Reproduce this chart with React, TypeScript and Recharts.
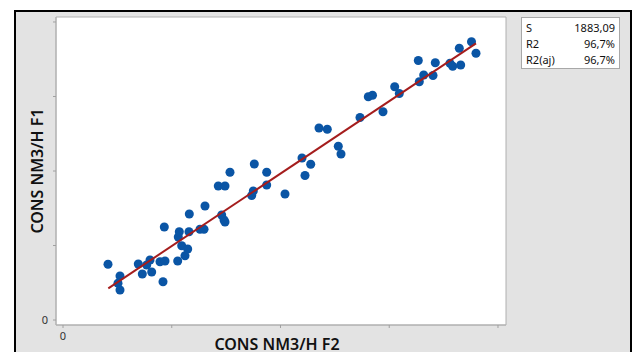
import React from "react";
import { ScatterChart, Scatter, XAxis, YAxis, CartesianGrid, ReferenceArea } from "recharts";

const xValues = [
  4138, 5241, 5057, 5241, 6924, 7292, 7697, 8000, 8156, 8920,
  9379, 9195, 9315, 10547, 10602, 10694, 10915, 11218, 11467, 11614,
  11586, 12598, 12966, 13057, 14280, 14897, 15356, 14593, 14805, 14897,
  17352, 17499, 17591, 18731, 18731, 20414, 21977, 22253, 22777, 23540,
  24303, 25315, 25563, 27310, 28074, 28460, 29425, 30501, 30924, 32671,
  32763, 33168, 34023, 34234, 35586, 35834, 36570, 36441, 37563, 37977,
];
const yValues = [
  7477, 5906, 4926, 4027, 7517, 6174, 7383, 8054, 6443, 7826,
  7919, 5141, 12483, 7919, 11141, 11852, 9973, 8631, 9530, 14228,
  11852, 12174, 12174, 15302, 17987, 17987, 19826, 14094, 13423, 13154,
  16711, 17315, 20940, 19826, 18121, 16913, 21745, 19396, 20913, 25772,
  25597, 23315, 22282, 27181, 29973, 30161, 27960, 31315, 30403, 34832,
  31987, 32886, 32819, 34537, 34456, 34054, 34228, 36470, 37356, 35799,
];
const fitX = [4166, 37977];
const fitY = [4255, 37141];

const xTicks = [0, 10000, 20000, 30000, 40000];
const yTicks = [0, 10000, 20000, 30000, 40000];
const shownTickLabels = ["0"];
const xTitle = "CONS NM3/H F2";
const yTitle = "CONS NM3/H F1";
const statNames = ["S", "R2", "R2(aj)"];
const statValues = ["1883,09", "96,7%", "96,7%"];

const points = xValues.map((x, i) => ({ x, y: yValues[i] }));
const fitLine = fitX.map((x, i) => ({ x, y: fitY[i] }));

const X_DOMAIN: [number, number] = [-644, 40736];
const Y_DOMAIN: [number, number] = [-671, 40671];

const fmt = (v: number) => (shownTickLabels.includes(String(v)) ? String(v) : "");
const FONT = "'Noto Sans', 'Open Sans', sans-serif";

export default function App() {
  return (
    <div style={{ position: "absolute", left: 0, top: 0, width: 635, height: 352, overflow: "hidden", background: "#fff" }}>
      <div
        style={{
          position: "absolute",
          left: 14,
          top: 10,
          width: 614,
          height: 400,
          border: "2px solid #000",
          background: "#e3e3e3",
        }}
      />
      <div style={{ position: "absolute", left: 0, top: 0 }}>
        <ScatterChart width={635} height={352} margin={{ top: 17, right: 129, left: 26, bottom: 7 }}>
          <CartesianGrid horizontal={false} vertical={false} fill="#ffffff" />
          <XAxis
            type="number"
            dataKey="x"
            domain={X_DOMAIN}
            ticks={xTicks}
            tickFormatter={fmt}
            height={20}
            tickSize={3}
            tickMargin={4}
            axisLine={{ stroke: "#b0b0b0" }}
            tickLine={{ stroke: "#a0a0a0" }}
            tick={{ fontSize: 11, fill: "#333", fontFamily: FONT }}
            allowDataOverflow
          />
          <YAxis
            type="number"
            dataKey="y"
            domain={Y_DOMAIN}
            ticks={yTicks}
            tickFormatter={fmt}
            width={30}
            tickSize={3}
            tickMargin={5}
            axisLine={{ stroke: "#b0b0b0" }}
            tickLine={{ stroke: "#a0a0a0" }}
            tick={{ fontSize: 11, fill: "#333", fontFamily: FONT }}
            allowDataOverflow
          />
          <ReferenceArea
            x1={X_DOMAIN[0]}
            x2={X_DOMAIN[1]}
            y1={Y_DOMAIN[0]}
            y2={Y_DOMAIN[1]}
            fill="none"
            stroke="#b0b0b0"
            strokeWidth={1}
          />
          <Scatter data={points} fill="#0a55a5" isAnimationActive={false} shape="circle" r={4} />
          <Scatter
            data={fitLine}
            line={{ stroke: "#a51d1d", strokeWidth: 2 }}
            shape={() => <g />}
            isAnimationActive={false}
          />
        </ScatterChart>
      </div>
      <div
        style={{
          position: "absolute",
          left: 521,
          top: 17,
          width: 99,
          height: 52,
          background: "#fff",
          border: "1px solid #a8a8a8",
          fontFamily: FONT,
          fontSize: 11,
          color: "#111",
          padding: "2px 4px",
          boxSizing: "border-box",
        }}
      >
        {statNames.map((n, i) => (
          <div key={n} style={{ display: "flex", justifyContent: "space-between", height: 16, lineHeight: "16px" }}>
            <span>{n}</span>
            <span>{statValues[i]}</span>
          </div>
        ))}
      </div>
      <div
        style={{
          position: "absolute",
          left: 277,
          top: 336.5,
          transform: "translateX(-50%)",
          fontFamily: FONT,
          fontWeight: 600,
          fontSize: 16,
          lineHeight: "14px",
          color: "#111",
          whiteSpace: "nowrap",
        }}
      >
        {xTitle}
      </div>
      <div
        style={{
          position: "absolute",
          left: 36.8,
          top: 171,
          transform: "translate(-50%, -50%) rotate(-90deg)",
          fontFamily: FONT,
          fontWeight: 600,
          fontSize: 16,
          lineHeight: "16px",
          color: "#111",
          whiteSpace: "nowrap",
        }}
      >
        {yTitle}
      </div>
    </div>
  );
}
